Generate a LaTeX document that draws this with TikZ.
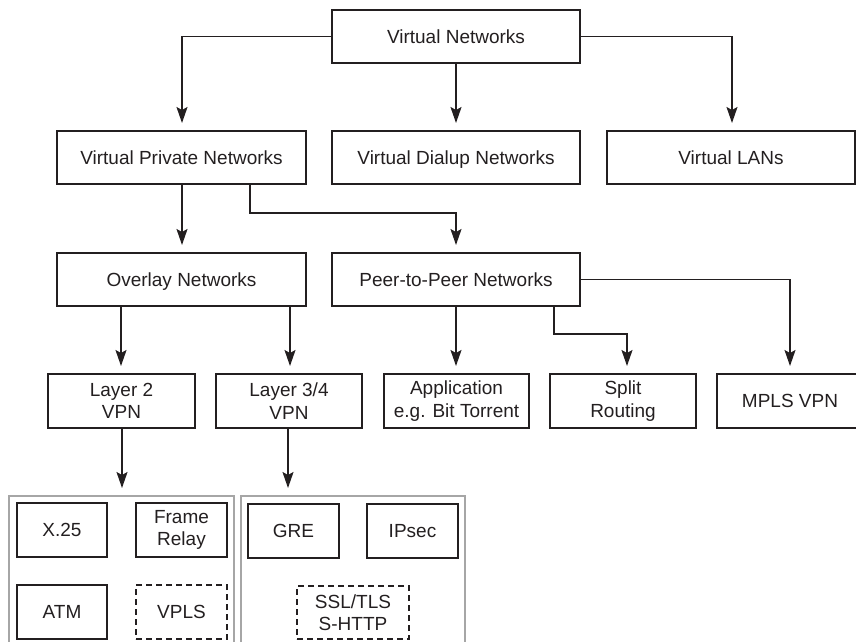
\documentclass[tikz,border=0pt]{standalone}
\usepackage{fontspec}
\setmainfont{Liberation Sans}
\usetikzlibrary{arrows.meta}
\definecolor{ink}{HTML}{231F20}
\definecolor{frame}{HTML}{A6A6A6}
\tikzset{
  box/.style={draw=ink, line width=1.3pt, inner sep=0pt, outer sep=0pt,
    text=ink, align=center, minimum height=53pt,
    font=\fontsize{19}{22.5}\selectfont},
  oneline/.style={text height=13.7pt, text depth=0pt},
  dbox/.style={box, dashed, dash pattern=on 6pt off 4pt},
  cont/.style={draw=frame, line width=1.3pt, inner sep=0pt, outer sep=0pt,
    anchor=north west, minimum height=190pt},
  arr/.style={draw=ink, line width=1.6pt,
    -{Stealth[length=16pt, width=11pt, inset=3pt]}, shorten >=8pt},
}
\begin{document}
\begin{tikzpicture}[x=1pt, y=-1pt]
\useasboundingbox (0,0) rectangle (856,642);
\clip (0,0) rectangle (856,642);

% level 1
\node[box, oneline, minimum width=248pt] (vn) at (456,36.5) {Virtual Networks};

% level 2
\node[box, oneline, minimum width=249pt] (vpn)  at (181.5,157.5) {Virtual Private Networks};
\node[box, oneline, minimum width=248pt] (vdn)  at (456,157.5)   {Virtual Dialup Networks};
\node[box, oneline, minimum width=248pt] (vlan) at (731,157.5)   {Virtual LANs};

% level 3
\node[box, oneline, minimum width=249pt] (ovl) at (181.5,279.5) {Overlay Networks};
\node[box, oneline, minimum width=248pt] (p2p) at (456,279.5)   {Peer-to-Peer Networks};

% level 4
\node[box, minimum width=147pt, minimum height=54pt] (l2)    at (121.5,401) {Layer 2\\VPN};
\node[box, minimum width=146pt, minimum height=54pt] (l34)   at (289,401)   {Layer 3/4\\VPN};
\node[box, minimum width=145pt, minimum height=54pt] (app)   at (456.5,401) {Application\\e.g. Bit Torrent};
\node[box, minimum width=146pt, minimum height=54pt] (split) at (623,401)   {Split\\Routing};
\node[box, oneline, minimum width=146pt, minimum height=54pt] (mpls) at (790,401) {MPLS VPN};

% grouping frames
\node[cont, minimum width=225pt] (lgrp) at (9,496) {};
\node[cont, minimum width=224pt] (rgrp) at (241,496) {};

% layer 2 technologies
\node[box, oneline, minimum width=90pt, minimum height=54pt] (x25)   at (62,530)    {X.25};
\node[box, minimum width=91pt, minimum height=54pt] (fr)    at (181.5,530) {Frame\\Relay};
\node[box, oneline, minimum width=90pt, minimum height=54pt] (atm)   at (62,612)    {ATM};
\node[dbox, oneline, minimum width=91pt, minimum height=54pt] (vpls) at (181.5,612) {VPLS};

% layer 3/4 technologies
\node[box, oneline, minimum width=91pt, minimum height=54pt] (gre)   at (293.5,531) {GRE};
\node[box, oneline, minimum width=91pt, minimum height=54pt] (ipsec) at (412.5,531) {IPsec};
\node[dbox, minimum width=112pt, minimum height=53pt] (ssl) at (353,612.5) {SSL/TLS\\S-HTTP};

% connectors
\draw[arr] (vn.west) -| ([xshift=0.5pt]vpn.north);
\draw[arr] (vn.south) -- (vdn.north);
\draw[arr] (vn.east) -| ([xshift=1pt]vlan.north);

\draw[arr] ([xshift=0.5pt]vpn.south) -- ([xshift=0.5pt]ovl.north);
\draw[arr] ([xshift=68.5pt]vpn.south) -- ++(0,29) -| (p2p.north);

\draw[arr] ([xshift=-60.5pt]ovl.south) -- ([xshift=-60.5pt]ovl.south |- l2.north);
\draw[arr] ([xshift=108.5pt]ovl.south) -- ([xshift=108.5pt]ovl.south |- l34.north);

\draw[arr] (p2p.south) -- (p2p.south |- app.north);
\draw[arr] ([xshift=98pt]p2p.south) -- ++(0,28) -| ([xshift=4pt]split.north);
\draw[arr] (p2p.east) -| (mpls.north);

\draw[arr] ([xshift=0.5pt]l2.south) -- ([xshift=0.5pt]l2.south |- lgrp.north);
\draw[arr] ([xshift=-1pt]l34.south) -- ([xshift=-1pt]l34.south |- rgrp.north);
\end{tikzpicture}
\end{document}
